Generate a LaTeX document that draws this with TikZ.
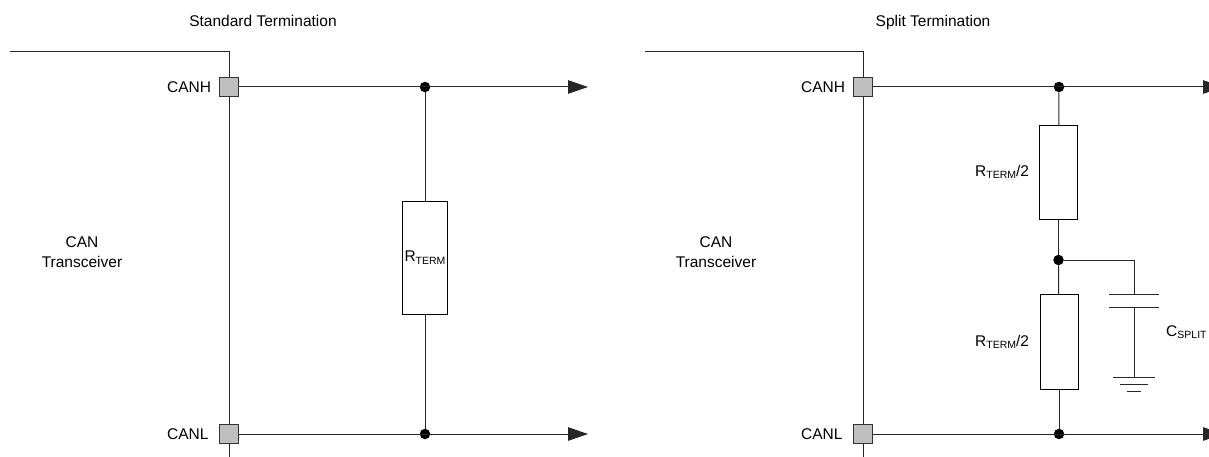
\documentclass[tikz,border=0pt]{standalone}
\usepackage{fontspec}
\setmainfont{Liberation Sans}
\usetikzlibrary{arrows.meta}
\tikzset{
  wire/.style={line width=1pt,draw=black!85},
  pin/.style={draw=black!80,line width=1.3pt,fill=black!25,minimum size=18.5pt,inner sep=0pt},
  resistor/.style={draw=black,line width=1pt,fill=white,inner sep=0pt},
  junction/.style={circle,fill=black,minimum size=10.5pt,inner sep=0pt},
  label/.style={font=\fontsize{15.5}{19.5}\selectfont,align=center,inner sep=0pt},
  busarrow/.style={-{Triangle[length=20pt,width=13.5pt]}}
}
\newcommand{\subtext}[2]{#1\raisebox{-2.5pt}{\fontsize{10.5}{11}\selectfont #2}}
\begin{document}
\begin{tikzpicture}[x=1pt,y=-1pt]
\useasboundingbox (0,0) rectangle (1209,457);

% standard termination
\node[label,anchor=base] (titleA) at (263,27) {Standard Termination};
\node[label] (xcvrA) at (82,252) {CAN\\Transceiver};
\coordinate (topA) at (10,52);
\coordinate (cornerA) at (229,52);
\coordinate (bottomA) at (229,457);
\coordinate (endHA) at (588,87);
\coordinate (endLA) at (588,434);
\draw[wire] (topA) -- (cornerA) -- (bottomA);
\node[pin] (canhA) at (229,87) {};
\node[pin] (canlA) at (229,434) {};
\node[label,anchor=west] (canhtextA) at (167,87) {CANH};
\node[label,anchor=west] (canltextA) at (167,434) {CANL};
\node[junction] (dotHA) at (425,87) {};
\node[junction] (dotLA) at (425,434) {};
\draw[wire,busarrow] (canhA) -- (endHA);
\draw[wire,busarrow] (canlA) -- (endLA);
\node[resistor,minimum width=45pt,minimum height=113pt] (rterm) at (425,257.5) {\fontsize{15.5}{17}\selectfont\subtext{R}{TERM}};
\draw[wire] (dotHA) -- (rterm);
\draw[wire] (rterm) -- (dotLA);

% split termination
\node[label,anchor=base] (titleB) at (933,27) {Split Termination};
\node[label] (xcvrB) at (716,252) {CAN\\Transceiver};
\coordinate (topB) at (645,52);
\coordinate (cornerB) at (863,52);
\coordinate (bottomB) at (863,457);
\coordinate (endHB) at (1223,87);
\coordinate (endLB) at (1223,434);
\draw[wire] (topB) -- (cornerB) -- (bottomB);
\node[pin] (canhB) at (863,87) {};
\node[pin] (canlB) at (863,434) {};
\node[label,anchor=west] (canhtextB) at (801,87) {CANH};
\node[label,anchor=west] (canltextB) at (801,434) {CANL};
\node[junction] (dotHB) at (1059,87) {};
\node[junction] (dotLB) at (1059,434) {};
\node[junction] (dotM) at (1058.5,260) {};
\draw[wire,busarrow] (canhB) -- (endHB);
\draw[wire,busarrow] (canlB) -- (endLB);
\node[resistor,minimum width=38pt,minimum height=93pt] (rtop) at (1058.5,172.5) {};
\node[resistor,minimum width=38pt,minimum height=95pt] (rbot) at (1059,342) {};
\node[label,anchor=west] (rtoptext) at (975,172) {\subtext{R}{TERM}/2};
\node[label,anchor=west] (rbottext) at (975,342) {\subtext{R}{TERM}/2};
\draw[wire] (dotHB) -- (rtop);
\draw[wire] (rtop) -- (dotM);
\draw[wire] (dotM) -- (rbot);
\draw[wire] (rbot) -- (dotLB);

% capacitor to ground
\coordinate (capA) at (1134,294);
\coordinate (capB) at (1134,307);
\coordinate (gndTop) at (1134,377);
\draw[wire] (dotM) -| (capA);
\draw[wire] (capB) -- (gndTop);
\draw[wire] (1109,294) -- (1159,294);
\draw[wire] (1109,307) -- (1159,307);
\draw[wire] (1113,377) -- (1155,377);
\draw[wire] (1120,384) -- (1148,384);
\draw[wire] (1127,391) -- (1141,391);
\node[label,anchor=west] (csplit) at (1166,332) {\subtext{C}{SPLIT}};

\end{tikzpicture}
\end{document}
